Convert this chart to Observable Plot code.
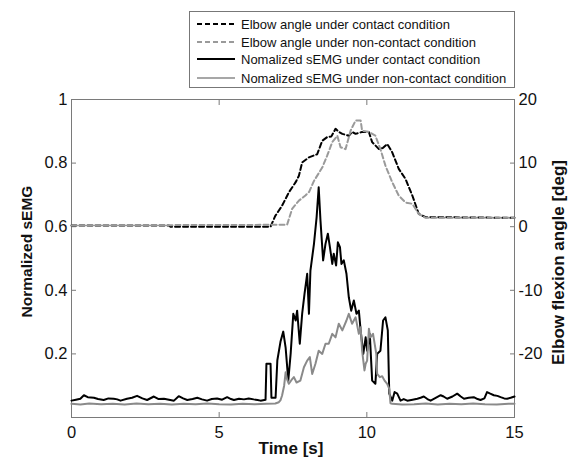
<!DOCTYPE html>
<html>
<head>
<meta charset="utf-8">
<script src="https://cdn.jsdelivr.net/npm/d3@7"></script>
<script src="https://cdn.jsdelivr.net/npm/@observablehq/plot@0.6"></script>
<style>
  body { margin: 0; background: #fff; }
  #wrap { position: relative; width: 573px; height: 462px; font-family: "Liberation Sans", Arial, sans-serif; }
  #legend { position: absolute; left: 189px; top: 11px; width: 326px; height: 77px; border: 1px solid #777; background: #fff; box-sizing: border-box; }
  .row { position: absolute; left: 0; height: 18px; display: flex; align-items: center; font-size: 13px; color: #111; white-space: nowrap; }
  .row svg { margin-left: 7px; margin-right: 6px; }
</style>
</head>
<body>
<div id="wrap">
  <div id="chart"></div>
  <div id="legend"></div>
</div>
<script>
// ---- Data ----
const xTicks = [0, 5, 10, 15];
const leftTicks = [0.2, 0.4, 0.6, 0.8, 1];
const rightTickLabels = ["-20", "-10", "0", "10", "20"];

const seriesNames = [
  "Elbow angle under contact condition",
  "Elbow angle under non-contact condition",
  "Nomalized sEMG under contact condition",
  "Nomalized sEMG under non-contact condition"
];

// Elbow angle, contact [time s, deg]
const angleContact = [
  [0,0.2],[3.3,0.2],[3.35,0.0],[6.74,0.0],[6.9,1.7],[7.13,3.3],[7.36,5.4],[7.59,7.0],[7.7,8.0],
  [7.81,10.1],[8.04,10.9],[8.32,11.4],[8.49,13.5],[8.66,14.1],[8.8,14.2],[8.94,15.4],[9.05,14.9],
  [9.17,14.6],[9.39,14.3],[9.5,14.9],[9.62,14.6],[9.84,14.9],[10.07,14.9],[10.18,13.3],[10.41,12.2],
  [10.55,12.4],[10.69,13.0],[10.86,11.7],[11.08,9.1],[11.31,7.5],[11.54,4.9],[11.76,2.0],[11.99,1.5],[15,1.4]
];
// Elbow angle, non-contact [time s, deg]
const angleNonContact = [
  [0,0.2],[7.3,0.3],[7.47,2.8],[7.7,4.1],[7.92,4.9],[8.05,5.5],[8.21,7.2],[8.49,9.3],[8.66,11.2],
  [8.83,13.3],[9.0,14.3],[9.11,12.5],[9.28,12.2],[9.45,15.1],[9.62,16.7],[9.79,16.7],[9.84,15.1],
  [10.07,14.9],[10.29,14.3],[10.46,12.2],[10.63,9.6],[10.86,7.0],[11.08,4.9],[11.31,3.8],[11.54,3.6],
  [11.76,2.0],[11.99,1.4],[15,1.4]
];
// Normalized sEMG, contact [time s, value]
const emgContact = [
  [0.00,0.053],[0.15,0.056],[0.30,0.059],[0.42,0.070],[0.55,0.064],[0.76,0.062],[0.9,0.058],[1.09,0.055],
  [1.25,0.060],[1.43,0.059],[1.55,0.057],[1.66,0.053],[1.88,0.059],[2.05,0.062],[2.22,0.068],[2.4,0.060],
  [2.56,0.055],[2.79,0.066],[2.95,0.058],[3.13,0.059],[3.3,0.056],[3.47,0.053],[3.63,0.067],[3.78,0.060],
  [3.92,0.055],[4.1,0.058],[4.26,0.062],[4.42,0.057],[4.59,0.053],[4.75,0.058],[4.93,0.060],[5.1,0.056],
  [5.27,0.064],[5.4,0.058],[5.5,0.055],[5.67,0.059],[5.84,0.057],[6.0,0.060],[6.17,0.057],[6.3,0.055],
  [6.4,0.053],[6.57,0.056],[6.6,0.169],[6.74,0.169],[6.77,0.062],[6.91,0.062],[6.97,0.18],[7.08,0.24],
  [7.17,0.27],[7.25,0.22],[7.34,0.116],[7.42,0.2],[7.51,0.326],[7.59,0.305],[7.64,0.336],[7.73,0.232],
  [7.81,0.326],[7.89,0.389],[7.98,0.452],[8.04,0.326],[8.09,0.462],[8.21,0.546],[8.3,0.63],[8.37,0.724],
  [8.43,0.62],[8.52,0.494],[8.6,0.546],[8.68,0.578],[8.75,0.536],[8.83,0.483],[8.88,0.515],[8.96,0.478],
  [9.02,0.551],[9.09,0.536],[9.14,0.483],[9.22,0.494],[9.31,0.452],[9.39,0.378],[9.47,0.336],[9.56,0.368],
  [9.65,0.326],[9.73,0.336],[9.79,0.274],[9.88,0.2],[9.96,0.252],[10.01,0.21],[10.1,0.263],[10.18,0.116],
  [10.29,0.106],[10.35,0.2],[10.46,0.21],[10.55,0.305],[10.63,0.315],[10.71,0.274],[10.76,0.075],
  [10.86,0.053],[10.94,0.08],[11.03,0.075],[11.14,0.053],[11.25,0.058],[11.37,0.053],[11.55,0.056],
  [11.71,0.059],[11.82,0.062],[11.93,0.066],[12.05,0.058],[12.16,0.053],[12.3,0.060],[12.5,0.070],
  [12.6,0.066],[12.72,0.059],[12.9,0.066],[13.06,0.075],[13.18,0.066],[13.29,0.059],[13.45,0.062],
  [13.62,0.064],[13.75,0.058],[13.85,0.055],[13.98,0.060],[14.07,0.080],[14.18,0.075],[14.3,0.070],
  [14.42,0.068],[14.53,0.064],[14.65,0.060],[14.75,0.059],[14.87,0.062],[15.0,0.066]
];
// Normalized sEMG, non-contact [time s, value]
const emgNonContact = [
  [0,0.043],[0.3,0.041],[0.6,0.044],[1.0,0.042],[1.4,0.043],[1.8,0.041],[2.2,0.044],[2.6,0.042],
  [3.0,0.043],[3.4,0.041],[3.8,0.043],[4.2,0.042],[4.6,0.044],[5.0,0.042],[5.4,0.041],[5.8,0.043],
  [6.2,0.042],[6.6,0.043],[6.9,0.044],[7.02,0.048],[7.08,0.055],[7.13,0.069],[7.2,0.1],[7.25,0.142],
  [7.3,0.12],[7.36,0.106],[7.45,0.118],[7.53,0.127],[7.62,0.11],[7.75,0.116],[7.87,0.158],[7.98,0.179],
  [8.07,0.19],[8.15,0.137],[8.26,0.169],[8.37,0.21],[8.49,0.2],[8.6,0.232],[8.71,0.232],[8.83,0.263],
  [8.94,0.252],[9.05,0.295],[9.17,0.274],[9.31,0.305],[9.39,0.326],[9.5,0.295],[9.62,0.315],[9.73,0.263],
  [9.79,0.284],[9.84,0.21],[9.92,0.148],[9.96,0.169],[10.01,0.179],[10.07,0.279],[10.12,0.252],[10.21,0.263],
  [10.32,0.2],[10.35,0.137],[10.44,0.127],[10.52,0.13],[10.6,0.116],[10.69,0.106],[10.76,0.09],[10.8,0.045],
  [10.86,0.043],[11.2,0.041],[11.6,0.042],[12.0,0.044],[12.4,0.041],[12.8,0.043],[13.2,0.042],[13.6,0.044],
  [14.0,0.042],[14.4,0.041],[14.8,0.043],[15,0.043]
];

// ---- Styles ----
const styles = [
  {stroke: "#000", width: 2, dash: "5,3"},
  {stroke: "#9a9a9a", width: 2, dash: "5,3"},
  {stroke: "#000", width: 2, dash: null},
  {stroke: "#8a8a8a", width: 2, dash: null}
];

// right axis (deg) mapped onto left scale: deg 20 -> 1, deg -30 -> 0
const degToLeft = a => 0.6 + a / 50;
const leftToDegLabel = v => rightTickLabels[leftTicks.indexOf(v)];

const font = "Liberation Sans, Arial, sans-serif";
const axisColor = "#7a7a7a";

const plot = Plot.plot({
  width: 573,
  height: 462,
  marginLeft: 71,
  marginRight: 59,
  marginTop: 99,
  marginBottom: 45,
  style: {fontFamily: font, fontSize: "16.5px", color: "#111", background: "#fff"},
  x: {domain: [0, 15]},
  y: {domain: [0, 1]},
  marks: [
    Plot.frame({stroke: axisColor}),
    // inward ticks
    Plot.axisX({anchor: "bottom", ticks: xTicks, tickSize: -5, stroke: axisColor, tickFormat: () => "", label: null}),
    Plot.axisX({anchor: "top", ticks: xTicks, tickSize: -5, stroke: axisColor, tickFormat: () => "", label: null}),
    Plot.axisY({anchor: "left", ticks: leftTicks, tickSize: -5, stroke: axisColor, tickFormat: () => "", label: null}),
    Plot.axisY({anchor: "right", ticks: leftTicks, tickSize: -5, stroke: axisColor, tickFormat: () => "", label: null}),
    // tick labels
    Plot.axisX({anchor: "bottom", ticks: xTicks, tickSize: 0, tickPadding: 9, tickFormat: d => String(d), label: null, fill: "#111"}),
    Plot.axisY({anchor: "left", ticks: leftTicks, tickSize: 0, tickPadding: 4, tickFormat: d => String(d), label: null, fill: "#111"}),
    Plot.axisY({anchor: "right", ticks: leftTicks, tickSize: 0, tickPadding: 4, tickFormat: leftToDegLabel, label: null, fill: "#111"}),
    // data
    Plot.line(angleContact, {x: d => d[0], y: d => degToLeft(d[1]), stroke: styles[0].stroke, strokeWidth: styles[0].width, strokeDasharray: styles[0].dash}),
    Plot.line(angleNonContact, {x: d => d[0], y: d => degToLeft(d[1]), stroke: styles[1].stroke, strokeWidth: styles[1].width, strokeDasharray: styles[1].dash}),
    Plot.line(emgContact, {x: d => d[0], y: d => d[1], stroke: styles[2].stroke, strokeWidth: styles[2].width}),
    Plot.line(emgNonContact, {x: d => d[0], y: d => d[1], stroke: styles[3].stroke, strokeWidth: styles[3].width}),
    // axis titles
    Plot.text(["Normalized sEMG"], {frameAnchor: "left", textAnchor: "middle", dx: -44, dy: -7, rotate: -90, fontWeight: "bold", fontSize: 15.5, fill: "#111"}),
    Plot.text(["Elbow flexion angle [deg]"], {frameAnchor: "right", textAnchor: "middle", dx: 44, dy: 4, rotate: -90, fontWeight: "bold", fontSize: 17, fill: "#111"}),
    Plot.text(["Time [s]"], {frameAnchor: "bottom", dy: 36, dx: -2, fontWeight: "bold", fontSize: 17, fill: "#111"})
  ]
});
document.getElementById("chart").appendChild(plot);

// ---- Legend ----
const legend = document.getElementById("legend");
const rowTops = [3, 21, 38, 57];
seriesNames.forEach((name, i) => {
  const row = document.createElement("div");
  row.className = "row";
  row.style.top = rowTops[i] + "px";
  const s = styles[i];
  row.innerHTML = `<svg width="38" height="6"><line x1="0" y1="3" x2="38" y2="3" stroke="${s.stroke}" stroke-width="${i === 3 ? 1.3 : 2}" ${s.dash ? `stroke-dasharray="${s.dash}"` : ""}/></svg><span>${name}</span>`;
  legend.appendChild(row);
});
</script>
</body>
</html>
